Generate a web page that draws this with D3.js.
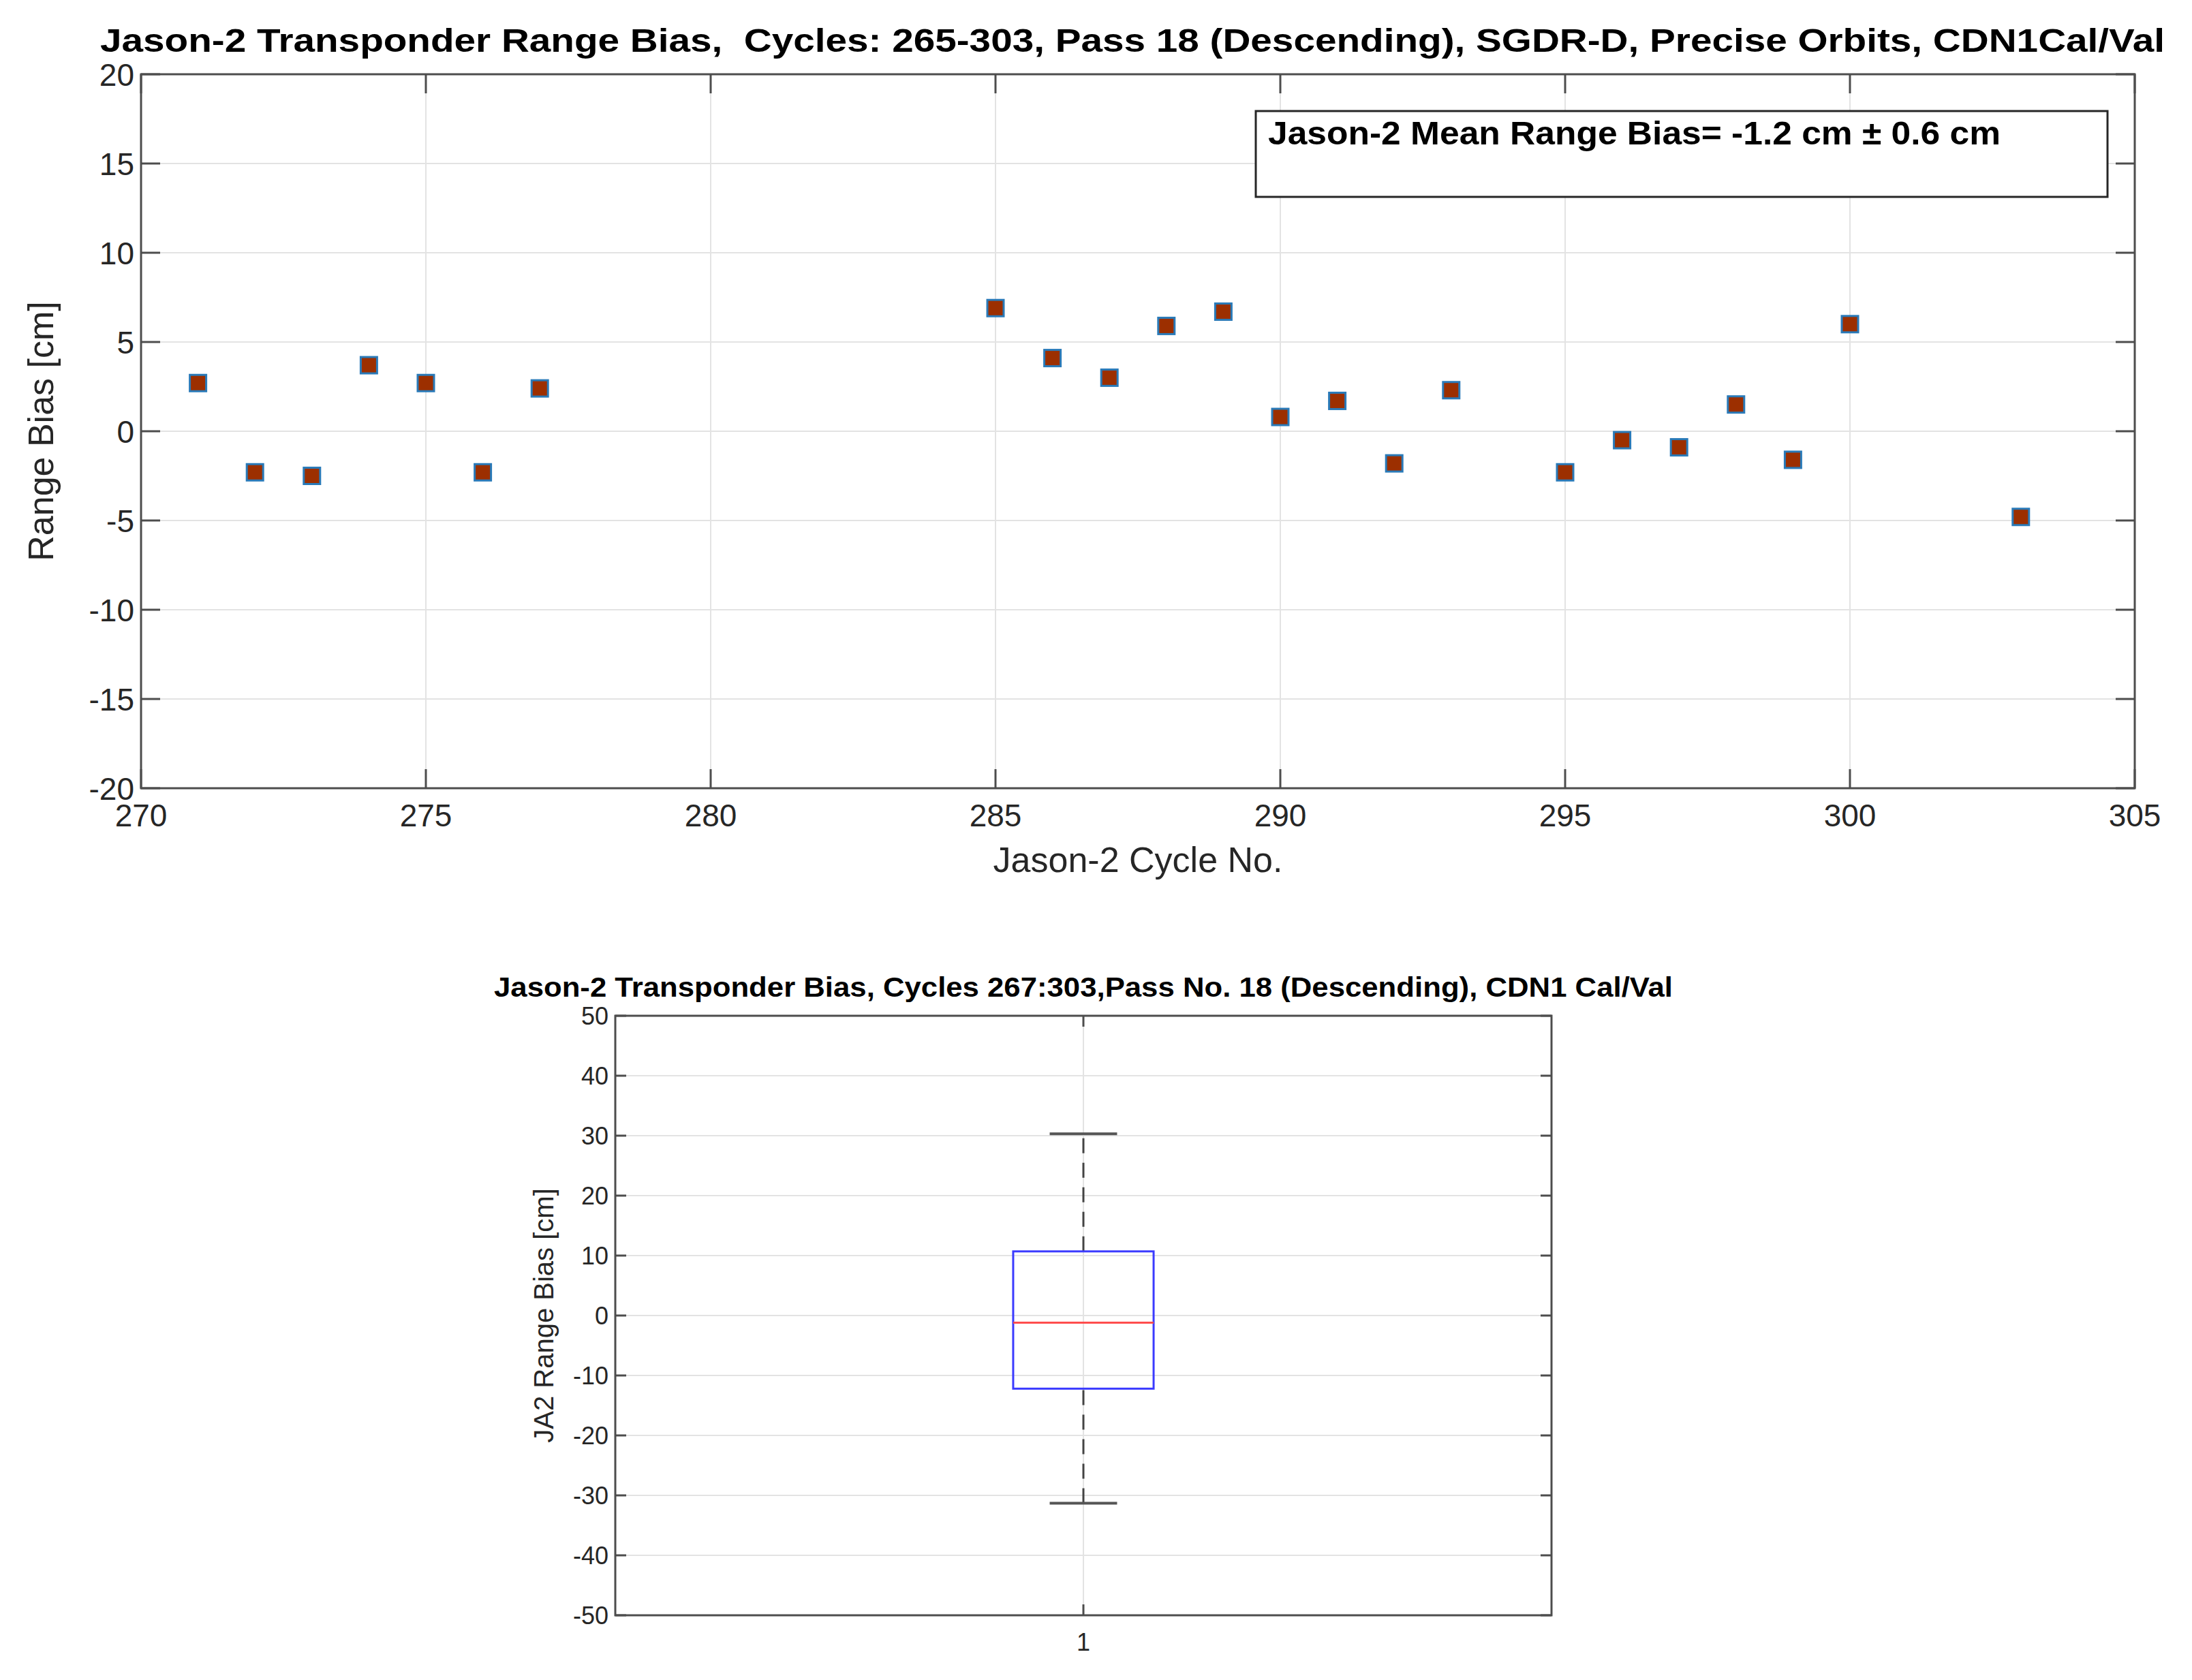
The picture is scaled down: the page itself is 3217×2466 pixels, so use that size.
<!DOCTYPE html>
<html><head><meta charset="utf-8">
<script src="https://cdn.jsdelivr.net/npm/d3@7"></script>
<style>body{margin:0;background:#fff}text{font-family:"Liberation Sans",Arial,sans-serif}</style>
</head><body><svg id="c" width="3217" height="2466"></svg>
<script>
const cycles=[271,272,273,274,275,276,277,285,286,287,288,289,290,291,292,293,295,296,297,298,299,300,303];
const bias=[2.7,-2.3,-2.5,3.7,2.7,-2.3,2.4,6.9,4.1,3.0,5.9,6.7,0.8,1.7,-1.8,2.3,-2.3,-0.5,-0.9,1.5,-1.6,6.0,-4.8];
const xTicks=[270,275,280,285,290,295,300,305];
const yTicks=[-20,-15,-10,-5,0,5,10,15,20];
const boxStats={q1:-12.2,median:-1.2,q3:10.7,lo:-31.3,hi:30.3};
const boxTicks=[-50,-40,-30,-20,-10,0,10,20,30,40,50];
const title1="Jason-2 Transponder Range Bias,\u00a0 Cycles: 265-303, Pass 18 (Descending), SGDR-D, Precise Orbits, CDN1Cal/Val";
const legendText="Jason-2 Mean Range Bias= -1.2 cm \u00b1 0.6 cm";
const title2="Jason-2 Transponder Bias, Cycles 267:303,Pass No. 18 (Descending), CDN1 Cal/Val";

const svg=d3.select("#c");
const axC="#4d4d4d", gridC="#e3e3e3";
const L=207,R=3133,T=109,B=1157;
const x=d3.scaleLinear().domain([270,305]).range([L,R]);
const y=d3.scaleLinear().domain([-20,20]).range([B,T]);
const g=svg.append("g");
g.selectAll(".gx").data(xTicks).enter().append("line").attr("x1",d=>x(d)).attr("x2",d=>x(d)).attr("y1",T).attr("y2",B).attr("stroke",gridC).attr("stroke-width",2);
g.selectAll(".gy").data(yTicks).enter().append("line").attr("y1",d=>y(d)).attr("y2",d=>y(d)).attr("x1",L).attr("x2",R).attr("stroke",gridC).attr("stroke-width",2);
function axes(gg,xs,ys,xt,yt,tl,fs){
  const [l,r]=xs.range(),[b,t]=ys.range();
  xt.forEach(v=>{gg.append("line").attr("x1",xs(v)).attr("x2",xs(v)).attr("y1",b).attr("y2",b-tl).attr("stroke",axC).attr("stroke-width",3);
    gg.append("line").attr("x1",xs(v)).attr("x2",xs(v)).attr("y1",t).attr("y2",t+tl).attr("stroke",axC).attr("stroke-width",3);});
  yt.forEach(v=>{gg.append("line").attr("y1",ys(v)).attr("y2",ys(v)).attr("x1",l).attr("x2",l+tl).attr("stroke",axC).attr("stroke-width",3);
    gg.append("line").attr("y1",ys(v)).attr("y2",ys(v)).attr("x1",r).attr("x2",r-tl).attr("stroke",axC).attr("stroke-width",3);
    gg.append("text").attr("x",l-10).attr("y",ys(v)).attr("dy","0.36em").attr("text-anchor","end").attr("font-size",fs).attr("fill","#262626").text(v);});
  gg.append("rect").attr("x",l).attr("y",t).attr("width",r-l).attr("height",b-t).attr("fill","none").attr("stroke",axC).attr("stroke-width",3);
}
axes(g,x,y,xTicks,yTicks,28,46);
xTicks.forEach(v=>g.append("text").attr("x",x(v)).attr("y",B+56).attr("text-anchor","middle").attr("font-size",46).attr("fill","#262626").text(v));
g.selectAll(".pt").data(cycles).enter().append("rect")
 .attr("x",(d)=>x(d)-12).attr("y",(d,i)=>y(bias[i])-12).attr("width",24).attr("height",24)
 .attr("fill","#9c2f00").attr("stroke","#2a7ab8").attr("stroke-width",3);
g.append("text").attr("x",1662).attr("y",76).attr("text-anchor","middle").attr("font-size",48).attr("font-weight","bold").attr("textLength",3030).attr("lengthAdjust","spacingAndGlyphs").text(title1);
g.append("text").attr("x",x(287.5)).attr("y",1280).attr("text-anchor","middle").attr("font-size",52).attr("fill","#262626").text("Jason-2 Cycle No.");
g.append("text").attr("transform","translate(78,"+y(0)+") rotate(-90)").attr("text-anchor","middle").attr("font-size",52).attr("fill","#262626").text("Range Bias [cm]");
g.append("rect").attr("x",1843).attr("y",163).attr("width",1250).attr("height",126).attr("fill","#fff").attr("stroke","#262626").attr("stroke-width",3);
g.append("text").attr("x",1861).attr("y",212).attr("font-size",48).attr("font-weight","bold").attr("textLength",1075).attr("lengthAdjust","spacingAndGlyphs").text(legendText);
const L2=903,R2=2277,T2=1491,B2=2371;
const bx=d3.scaleLinear().domain([0.5,1.5]).range([L2,R2]);
const by=d3.scaleLinear().domain([-50,50]).range([B2,T2]);
const g2=svg.append("g");
g2.append("line").attr("x1",bx(1)).attr("x2",bx(1)).attr("y1",T2).attr("y2",B2).attr("stroke",gridC).attr("stroke-width",2);
boxTicks.forEach(v=>g2.append("line").attr("y1",by(v)).attr("y2",by(v)).attr("x1",L2).attr("x2",R2).attr("stroke",gridC).attr("stroke-width",2));
axes(g2,bx,by,[1],boxTicks,16,36);
g2.append("text").attr("x",bx(1)).attr("y",B2+52).attr("text-anchor","middle").attr("font-size",36).attr("fill","#262626").text("1");
const bw=0.075, cw=0.036;
[[boxStats.q3,boxStats.hi],[boxStats.lo,boxStats.q1]].forEach(([a,b])=>g2.append("line").attr("x1",bx(1)).attr("x2",bx(1)).attr("y1",by(a)).attr("y2",by(b)).attr("stroke","#444").attr("stroke-width",3).attr("stroke-dasharray","22,14"));
[boxStats.hi,boxStats.lo].forEach(v=>g2.append("line").attr("x1",bx(1-cw)).attr("x2",bx(1+cw)).attr("y1",by(v)).attr("y2",by(v)).attr("stroke","#555").attr("stroke-width",4));
g2.append("rect").attr("x",bx(1-bw)).attr("y",by(boxStats.q3)).attr("width",bx(1+bw)-bx(1-bw)).attr("height",by(boxStats.q1)-by(boxStats.q3)).attr("fill","none").attr("stroke","#3b3bff").attr("stroke-width",3);
g2.append("line").attr("x1",bx(1-bw)).attr("x2",bx(1+bw)).attr("y1",by(boxStats.median)).attr("y2",by(boxStats.median)).attr("stroke","#ff4d4d").attr("stroke-width",3);
g2.append("text").attr("x",(L2+R2)/2).attr("y",1463).attr("text-anchor","middle").attr("font-size",40).attr("font-weight","bold").attr("textLength",1730).attr("lengthAdjust","spacingAndGlyphs").text(title2);
g2.append("text").attr("transform","translate(812,"+by(0)+") rotate(-90)").attr("text-anchor","middle").attr("font-size",40).attr("fill","#262626").text("JA2 Range Bias [cm]");
</script></body></html>
